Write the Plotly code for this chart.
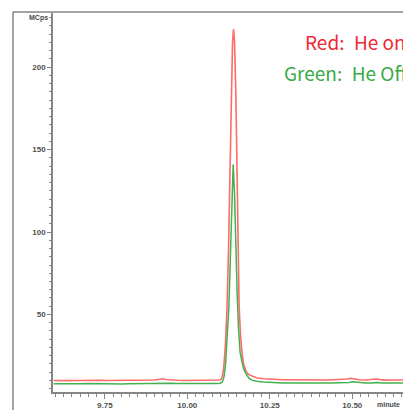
import plotly.graph_objects as go

# Retention time (minutes) and signal (MCps) for the two acquisitions
red_time = [9.595, 9.62, 9.64, 9.66, 9.68, 9.70, 9.72, 9.74, 9.76, 9.78, 9.80, 9.82,
            9.84, 9.86, 9.88, 9.90, 9.915, 9.925, 9.935, 9.95, 9.97, 9.99, 10.01,
            10.03, 10.05, 10.07, 10.09, 10.10, 10.105, 10.11, 10.115, 10.12, 10.125,
            10.13, 10.134, 10.137, 10.140, 10.143, 10.147, 10.151, 10.154, 10.157,
            10.161, 10.166, 10.171, 10.178, 10.186, 10.196, 10.21, 10.23, 10.25,
            10.27, 10.29, 10.31, 10.33, 10.35, 10.37, 10.39, 10.41, 10.43, 10.45,
            10.47, 10.485, 10.495, 10.505, 10.52, 10.54, 10.56, 10.572, 10.585,
            10.60, 10.62, 10.64, 10.655]
red_signal = [10.0, 9.8, 9.9, 10.0, 10.1, 10.0, 10.0, 10.1, 10.0, 10.0, 9.9, 10.0,
              10.1, 10.3, 10.2, 10.3, 10.7, 11.0, 10.6, 10.2, 10.1, 10.0, 10.0,
              10.1, 10.0, 10.0, 10.1, 10.3, 11.5, 17.0, 30.0, 52.0, 90.0,
              140.0, 190.0, 215.0, 223.0, 216.0, 185.0, 125.0, 85.0, 55.0,
              38.0, 26.0, 19.5, 15.5, 13.5, 12.5, 11.6, 11.0, 10.7,
              10.5, 10.4, 10.4, 10.3, 10.4, 10.3, 10.4, 10.3, 10.3, 10.4,
              10.5, 10.9, 11.3, 11.0, 10.4, 10.3, 10.5, 10.9, 10.5,
              10.2, 10.3, 10.2, 10.3]

green_time = [9.595, 9.62, 9.64, 9.66, 9.68, 9.70, 9.72, 9.74, 9.76, 9.78, 9.80, 9.82,
              9.84, 9.86, 9.88, 9.90, 9.925, 9.95, 9.97, 9.99, 10.01, 10.03, 10.05,
              10.07, 10.09, 10.10, 10.106, 10.111, 10.116, 10.121, 10.126, 10.131,
              10.135, 10.139, 10.143, 10.147, 10.151, 10.155, 10.16, 10.165, 10.171,
              10.178, 10.186, 10.196, 10.21, 10.23, 10.25, 10.27, 10.29, 10.31,
              10.33, 10.35, 10.37, 10.39, 10.41, 10.43, 10.45, 10.47, 10.49, 10.50,
              10.52, 10.54, 10.56, 10.575, 10.59, 10.61, 10.63, 10.655]
green_signal = [8.0, 7.9, 8.0, 8.1, 8.0, 8.1, 8.0, 8.0, 8.1, 8.0, 7.8, 8.0,
                8.1, 8.3, 8.2, 8.3, 8.6, 8.3, 8.2, 8.1, 8.1, 8.2, 8.1,
                8.1, 8.2, 8.3, 9.0, 12.0, 20.0, 35.0, 55.0, 88.0,
                120.0, 141.0, 124.0, 90.0, 63.0, 42.0, 27.0, 22.0, 17.0,
                14.0, 11.5, 10.2, 9.5, 9.1, 8.8, 8.6, 8.5, 8.5,
                8.4, 8.5, 8.4, 8.4, 8.4, 8.4, 8.5, 8.5, 8.8, 9.2,
                8.7, 8.4, 8.5, 8.8, 8.5, 8.3, 8.4, 8.4]

x_tick_vals = [9.75, 10.00, 10.25, 10.50]
x_tick_text = ["9.75", "10.00", "10.25", "10.50"]
y_tick_vals = [50, 100, 150, 200]
y_tick_text = ["50", "100", "150", "200"]

axis_grey = "#858585"
tick_font = dict(family="Liberation Sans, Arial", size=8, color="#505050", weight="bold")

fig = go.Figure()
fig.add_trace(go.Scatter(x=red_time, y=red_signal, mode="lines",
                         line=dict(color="#ff6a6a", width=1.6), hoverinfo="skip"))
fig.add_trace(go.Scatter(x=green_time, y=green_signal, mode="lines",
                         line=dict(color="#45b04f", width=1.5), hoverinfo="skip"))

fig.update_layout(
    width=403, height=410,
    margin=dict(l=53, r=0, t=13, b=14),
    paper_bgcolor="white", plot_bgcolor="white",
    showlegend=False,
    xaxis=dict(range=[9.593, 10.6536], showgrid=False, zeroline=False,
               showline=True, linecolor=axis_grey, linewidth=1.5,
               ticks="outside", ticklen=5, tickwidth=1, tickcolor=axis_grey,
               tickvals=x_tick_vals, ticktext=x_tick_text, tickfont=tick_font,
               minor=dict(dtick=0.025, tick0=0, ticks="outside", ticklen=3,
                          tickwidth=1, tickcolor=axis_grey)),
    yaxis=dict(range=[3.0, 232.8], showgrid=False, zeroline=False,
               showline=True, linecolor=axis_grey, linewidth=1.5,
               ticks="outside", ticklen=4, tickwidth=1, tickcolor=axis_grey,
               tickvals=y_tick_vals, ticktext=y_tick_text, tickfont=tick_font,
               minor=dict(dtick=5, tick0=0, ticks="outside", ticklen=2.5,
                          tickwidth=1, tickcolor=axis_grey)),
)

# Outer instrument frame (left and top edges)
fig.add_shape(type="line", xref="paper", yref="paper",
              x0=-0.1143, x1=-0.1143, y0=1.0026, y1=-0.1,
              line=dict(color=axis_grey, width=1.5))
fig.add_shape(type="line", xref="paper", yref="paper",
              x0=-0.1143, x1=1.05, y0=1.0026, y1=1.0026,
              line=dict(color=axis_grey, width=1.5))

# Axis titles
fig.add_annotation(text="MCps", xref="paper", yref="paper", x=-0.01, y=0.986,
                   xanchor="right", yanchor="middle", showarrow=False,
                   font=dict(family="Liberation Sans, Arial", size=7, color="#4a4a4a",
                             weight="bold"))
fig.add_annotation(text="minute", xref="paper", yref="paper", x=0.92, y=-0.034,
                   xanchor="left", yanchor="middle", showarrow=False,
                   font=dict(family="Liberation Sans, Arial", size=7, color="#4a4a4a",
                             weight="bold"))

# Condition labels
fig.add_annotation(text="Red:\u2002He on", xref="paper", yref="paper",
                   x=0.7135, y=0.925, xanchor="left", yanchor="middle", showarrow=False,
                   font=dict(family="Noto Sans CJK KR", size=19, color="#ee2a36"))
fig.add_annotation(text="Green:\u2002He Off", xref="paper", yref="paper",
                   x=0.654, y=0.842, xanchor="left", yanchor="middle", showarrow=False,
                   font=dict(family="Noto Sans CJK KR", size=19, color="#3aaa48"))

fig.write_html("out.html")
